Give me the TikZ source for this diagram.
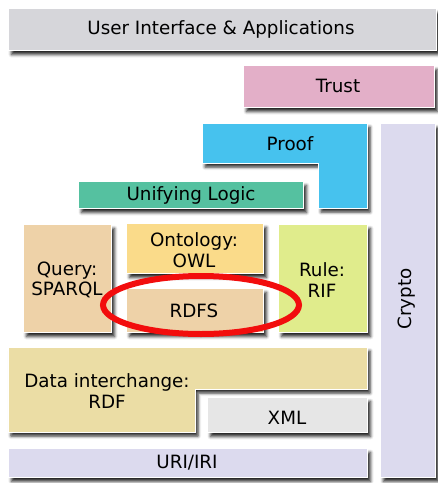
\documentclass[tikz,border=0pt]{standalone}
\usepackage{fontspec}
\setmainfont{DejaVu Sans}
\usetikzlibrary{shadows.blur,shapes.geometric}
\definecolor{cUI}{HTML}{D6D6DA}
\definecolor{cTrust}{HTML}{E3AFC8}
\definecolor{cProof}{HTML}{46C2EE}
\definecolor{cLogic}{HTML}{55C1A0}
\definecolor{cTan}{HTML}{EED2A8}
\definecolor{cOnt}{HTML}{FADB8A}
\definecolor{cRule}{HTML}{E0EC8C}
\definecolor{cLav}{HTML}{DCDAEE}
\definecolor{cData}{HTML}{EBDDA5}
\definecolor{cXML}{HTML}{E6E6E6}
\definecolor{cRed}{HTML}{F20D0D}
\tikzset{
  shad/.style={blur shadow={shadow xshift=3pt, shadow yshift=-4pt, shadow blur radius=3pt, shadow opacity=85}},
  layer/.style={shad, draw=white, line width=1pt, rectangle, inner sep=0pt, anchor=north west, align=center},
  lbl/.style={font=\fontsize{18.3}{20.5}\selectfont, align=center, inner sep=0pt},
}
\begin{document}
\begin{tikzpicture}[x=1pt,y=-1pt]
\useasboundingbox (0,0) rectangle (438,483);
% top
\node[layer, fill=cUI, minimum width=428, minimum height=42] (ui) at (8,8) {};
\node[lbl] (uit) at (221,29) {User Interface \& Applications};
\node[layer, fill=cTrust, minimum width=191, minimum height=42] (trust) at (243,65) {};
\node[lbl] (trustt) at (338,86) {Trust};
% crypto
\node[layer, fill=cLav, minimum width=55, minimum height=354] (crypto) at (380,123) {};
\node[lbl, rotate=90] (cryptot) at (407,299) {Crypto};
% proof L-shape
\draw[shad, draw=white, line width=1pt, fill=cProof] (202,123) -- (367,123) -- (367,208) -- (318,208) -- (318,163) -- (202,163) -- cycle;
\node[lbl] (prooft) at (290,144) {Proof};
% unifying logic
\node[layer, fill=cLogic, minimum width=225, minimum height=27] (logic) at (78,181) {};
\node[lbl] (logict) at (191,195) {Unifying Logic};
% middle
\node[layer, fill=cTan, minimum width=88, minimum height=108] (query) at (23,224) {};
\node[lbl] (queryt) at (67,280) {Query:\\SPARQL};
\node[layer, fill=cOnt, minimum width=137, minimum height=50] (owl) at (126,223) {};
\node[lbl] (owlt) at (194,250) {Ontology:\\OWL};
\node[layer, fill=cTan, minimum width=137, minimum height=44] (rdfs) at (126,288) {};
\node[lbl] (rdfst) at (194,311) {RDFS};
\node[layer, fill=cRule, minimum width=89, minimum height=108] (rule) at (278,224) {};
\node[lbl] (rulet) at (322,280) {Rule:\\RIF};
% data interchange L-shape
\draw[shad, draw=white, line width=1pt, fill=cData] (8,347) -- (367,347) -- (367,389) -- (195,389) -- (195,432) -- (8,432) -- cycle;
\node[lbl] (rdft) at (107,391) {Data interchange:\\RDF};
\node[layer, fill=cXML, minimum width=160, minimum height=35] (xml) at (207,397) {};
\node[lbl] (xmlt) at (287,418) {XML};
\node[layer, fill=cLav, minimum width=359, minimum height=29] (uri) at (8,448) {};
\node[lbl] (urit) at (187,463) {URI/IRI};
% highlight
\node[draw=cRed, line width=6pt, ellipse, minimum width=196, minimum height=58, inner sep=0pt] (hl) at (201,305) {};
\end{tikzpicture}
\end{document}
